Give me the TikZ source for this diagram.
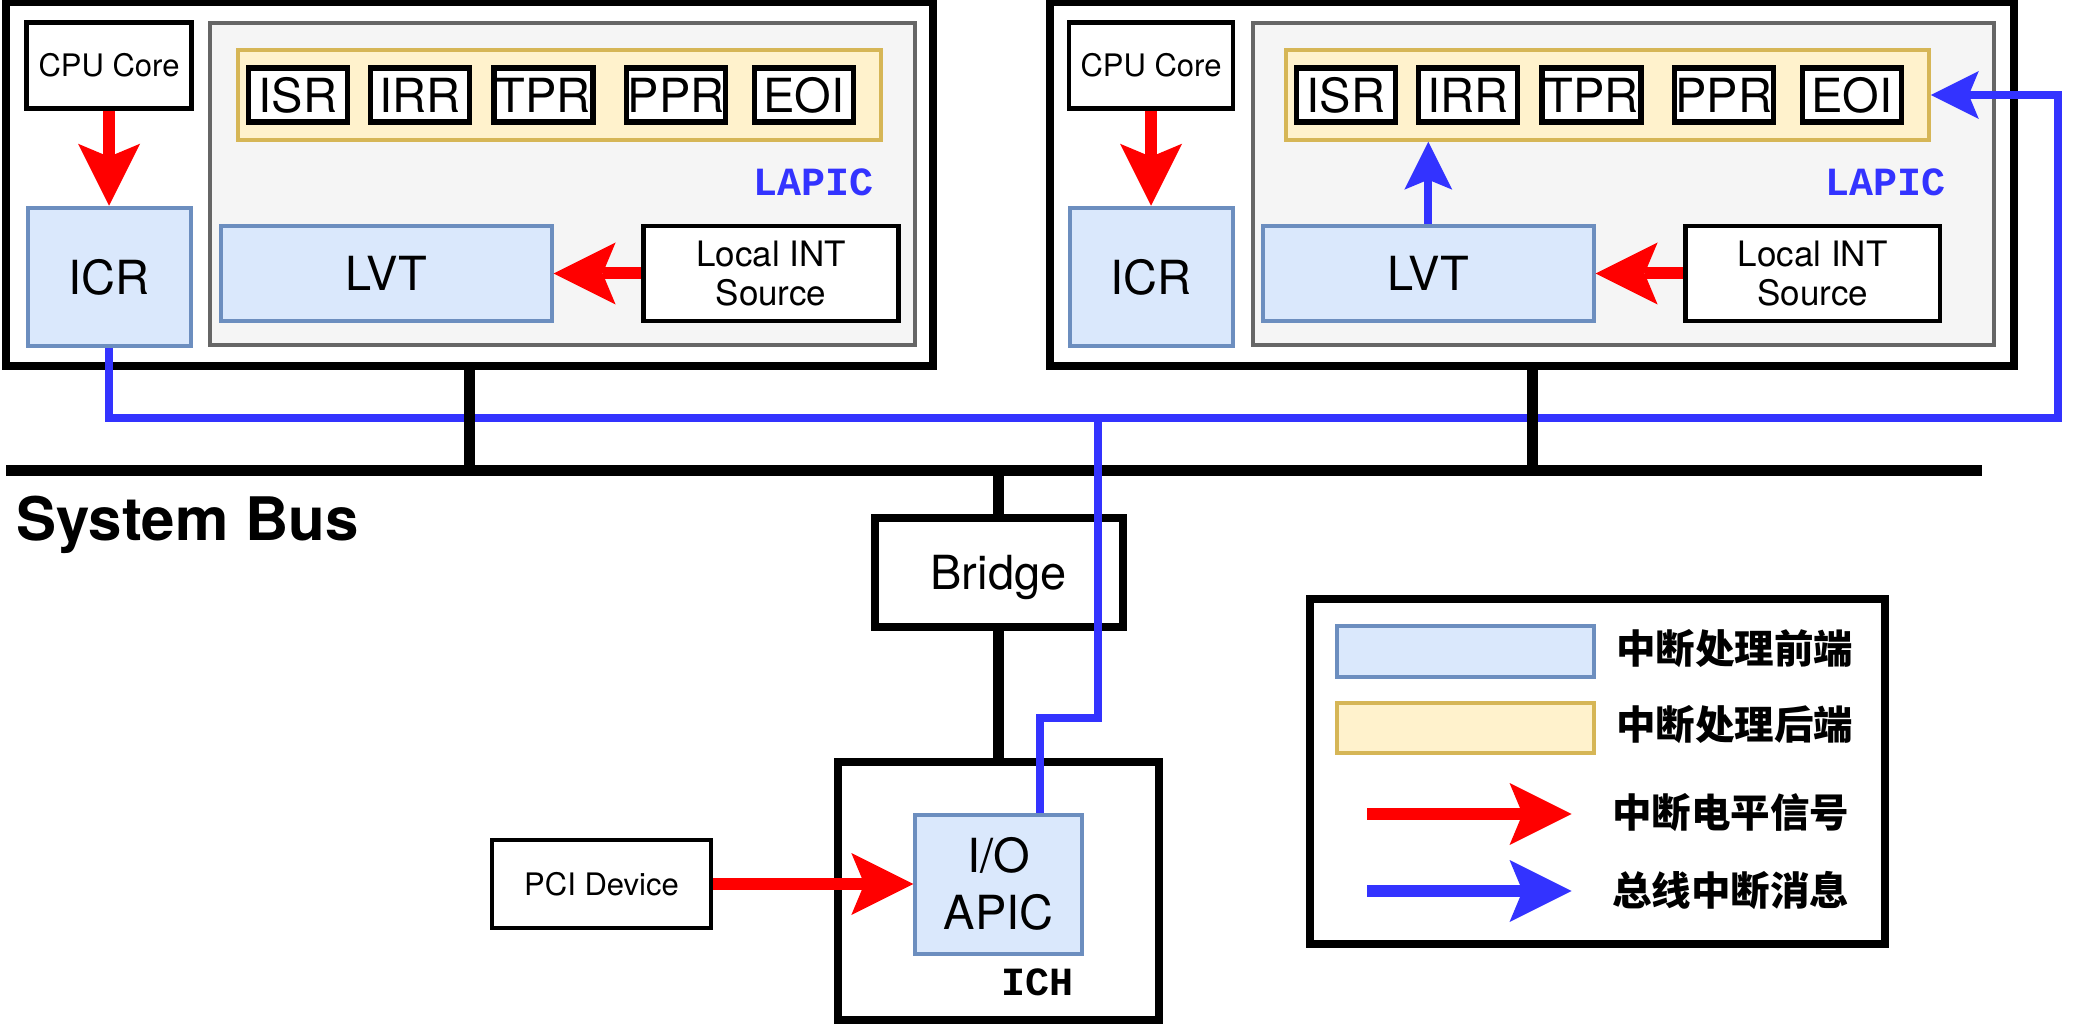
\documentclass[tikz,border=0pt]{standalone}
\usepackage{fontspec}
\setmainfont{TeX Gyre Heros}
\newfontfamily\codefont{Liberation Mono}
\newfontfamily\cjkfont{Noto Sans CJK SC}
\usepackage{tikz}
\usetikzlibrary{arrows.meta}
\definecolor{FrontFill}{HTML}{DAE8FC}
\definecolor{FrontEdge}{HTML}{6C8EBF}
\definecolor{BackFill}{HTML}{FFF2CC}
\definecolor{BackEdge}{HTML}{D6B656}
\definecolor{LapicFill}{HTML}{F5F5F5}
\definecolor{LapicEdge}{HTML}{666666}
\definecolor{SigRed}{HTML}{FF0000}
\definecolor{MsgBlue}{HTML}{3333FF}

\begin{document}
\begin{tikzpicture}[x=1pt,y=-1pt,
  frame/.style={draw,line width=8pt},
  plain/.style={draw,line width=4.5pt,fill=white,font=\fontsize{31}{36}\selectfont},
  front/.style={draw=FrontEdge,fill=FrontFill,line width=4pt,font=\fontsize{47}{57}\selectfont},
  back/.style={draw=BackEdge,fill=BackFill,line width=4pt},
  lapic/.style={draw=LapicEdge,fill=LapicFill,line width=4pt},
  reg/.style={draw,line width=5.5pt,fill=white,inner sep=0pt,minimum width=99pt,minimum height=54pt,font=\fontsize{47}{54}\selectfont},
  tag/.style={anchor=base east,inner sep=0pt,font=\codefont\bfseries\fontsize{40}{40}\selectfont},
  key/.style={anchor=west,inner sep=0pt,font=\cjkfont\bfseries\fontsize{39.5}{40}\selectfont},
  sig/.style={draw=SigRed,line width=12pt,-{Stealth[length=62pt,width=62pt,inset=13pt,line width=0pt]}},
  msg/.style={draw=MsgBlue,line width=8pt},
  msgtip/.style={msg,-{Stealth[length=48pt,width=48pt,inset=10pt,line width=0pt]}},
  bus/.style={line width=11pt}]
  \useasboundingbox (0,0) rectangle (2096,1032);

  % Left CPU
  \node[frame,minimum width=927pt,minimum height=364pt] (cpuA) at (469.5,184) {};
  \node[plain,minimum width=165pt,minimum height=86pt] (coreA) at (109,65.7) {CPU Core};
  \node[front,minimum width=163pt,minimum height=138.5pt] (icrA) at (109,277) {ICR};
  \node[lapic,minimum width=705pt,minimum height=322pt] (lapicA) at (562,183.7) {};
  \node[back,minimum width=643pt,minimum height=89.4pt] (backA) at (559.6,95) {};
  \foreach \r/\dx in {ISR/62,IRR/184,TPR/307.5,PPR/440,EOI/568}
    \node[reg] (\r-A) at ([xshift=\dx pt]backA.west) {\r};
  \node[tag,text=MsgBlue] (tagA) at (874,196) {LAPIC};
  \node[front,minimum width=330.6pt,minimum height=95pt] (lvtA) at (386.3,273.5) {LVT};
  \node[plain,align=center,font=\fontsize{35}{39}\selectfont,minimum width=255pt,minimum height=95pt] (srcA) at (771,273.5) {Local INT\\Source};
  \draw[sig] (coreA) -- (icrA);
  \draw[sig] (srcA) -- (lvtA);

  % Right CPU
  \node[frame,minimum width=964pt,minimum height=364pt] (cpuB) at (1532,184) {};
  \node[plain,minimum width=164pt,minimum height=86pt] (coreB) at (1151,65.7) {CPU Core};
  \node[front,minimum width=163pt,minimum height=138.5pt] (icrB) at (1151,277) {ICR};
  \node[lapic,minimum width=741.4pt,minimum height=322pt] (lapicB) at (1623.5,183.7) {};
  \node[back,minimum width=643pt,minimum height=89.4pt] (backB) at (1607.3,95) {};
  \foreach \r/\dx in {ISR/62,IRR/184,TPR/307.5,PPR/440,EOI/568}
    \node[reg] (\r-B) at ([xshift=\dx pt]backB.west) {\r};
  \node[tag,text=MsgBlue] (tagB) at (1946,196) {LAPIC};
  \node[front,minimum width=330.6pt,minimum height=95pt] (lvtB) at (1428.3,273.5) {LVT};
  \node[plain,align=center,font=\fontsize{35}{39}\selectfont,minimum width=254.5pt,minimum height=95pt] (srcB) at (1812.7,273.5) {Local INT\\Source};
  \draw[sig] (coreB) -- (icrB);
  \draw[sig] (srcB) -- (lvtB);
  \draw[msgtip] (lvtB) -- (lvtB |- backB.south);

  % System bus
  \coordinate (busL) at (6,470);
  \coordinate (busR) at (1982,470);
  \draw[bus] (busL) -- (busR);
  \node[anchor=base west,inner sep=0pt,font=\bfseries\fontsize{60}{60}\selectfont] (busname) at (16,540) {System Bus};

  % Bridge and ICH
  \node[frame,minimum width=248pt,minimum height=108.7pt,text depth=0pt,font=\fontsize{47}{47}\selectfont] (bridge) at (998.5,572.3) {Bridge};
  \node[frame,minimum width=321pt,minimum height=258pt] (ich) at (998.5,891) {};
  \node[front,align=center,minimum width=166.4pt,minimum height=139pt] (ioapic) at (998.5,884) {I/O\\APIC};
  \node[tag] (ichtag) at (1073.5,995) {ICH};
  \node[plain,minimum width=219pt,minimum height=88pt] (pci) at (601.5,884) {PCI Device};
  \draw[bus] (bridge) -- (ich);
  \draw[sig] (pci) -- (ioapic);

  % Bus interrupt messages
  \coordinate (msgR) at (2058,418);
  \coordinate (msgI) at (1098,418);
  \coordinate (jog) at (1040,718);
  \draw[msgtip] (icrA) |- (msgR) |- (backB.east);
  \draw[msg] (msgI) |- (jog) -- (jog |- ioapic.north);

  % Bus taps
  \draw[bus] (cpuA) -- (cpuA |- busL);
  \draw[bus] (cpuB) -- (cpuB |- busL);
  \draw[bus] (bridge |- busL) -- (bridge);

  % Legend
  \node[frame,minimum width=575pt,minimum height=345pt] (legend) at (1597.5,771.5) {};
  \node[front,minimum width=257pt,minimum height=51pt] (keyFront) at (1465.5,651.5) {};
  \node[back,minimum width=257pt,minimum height=50pt] (keyBack) at (1465.5,728) {};
  \node[key] (txtFront) at (1616,649) {中断处理前端};
  \node[key] (txtBack) at (1616,725) {中断处理后端};
  \coordinate (sigA) at (1367,814);
  \coordinate (sigB) at (1571.5,814);
  \coordinate (msgA) at (1367,891);
  \coordinate (msgB) at (1571.5,891);
  \draw[sig] (sigA) -- (sigB);
  \draw[sig,draw=MsgBlue] (msgA) -- (msgB);
  \node[key] (txtSig) at (1612,813) {中断电平信号};
  \node[key] (txtMsg) at (1612,890) {总线中断消息};
\end{tikzpicture}
\end{document}
